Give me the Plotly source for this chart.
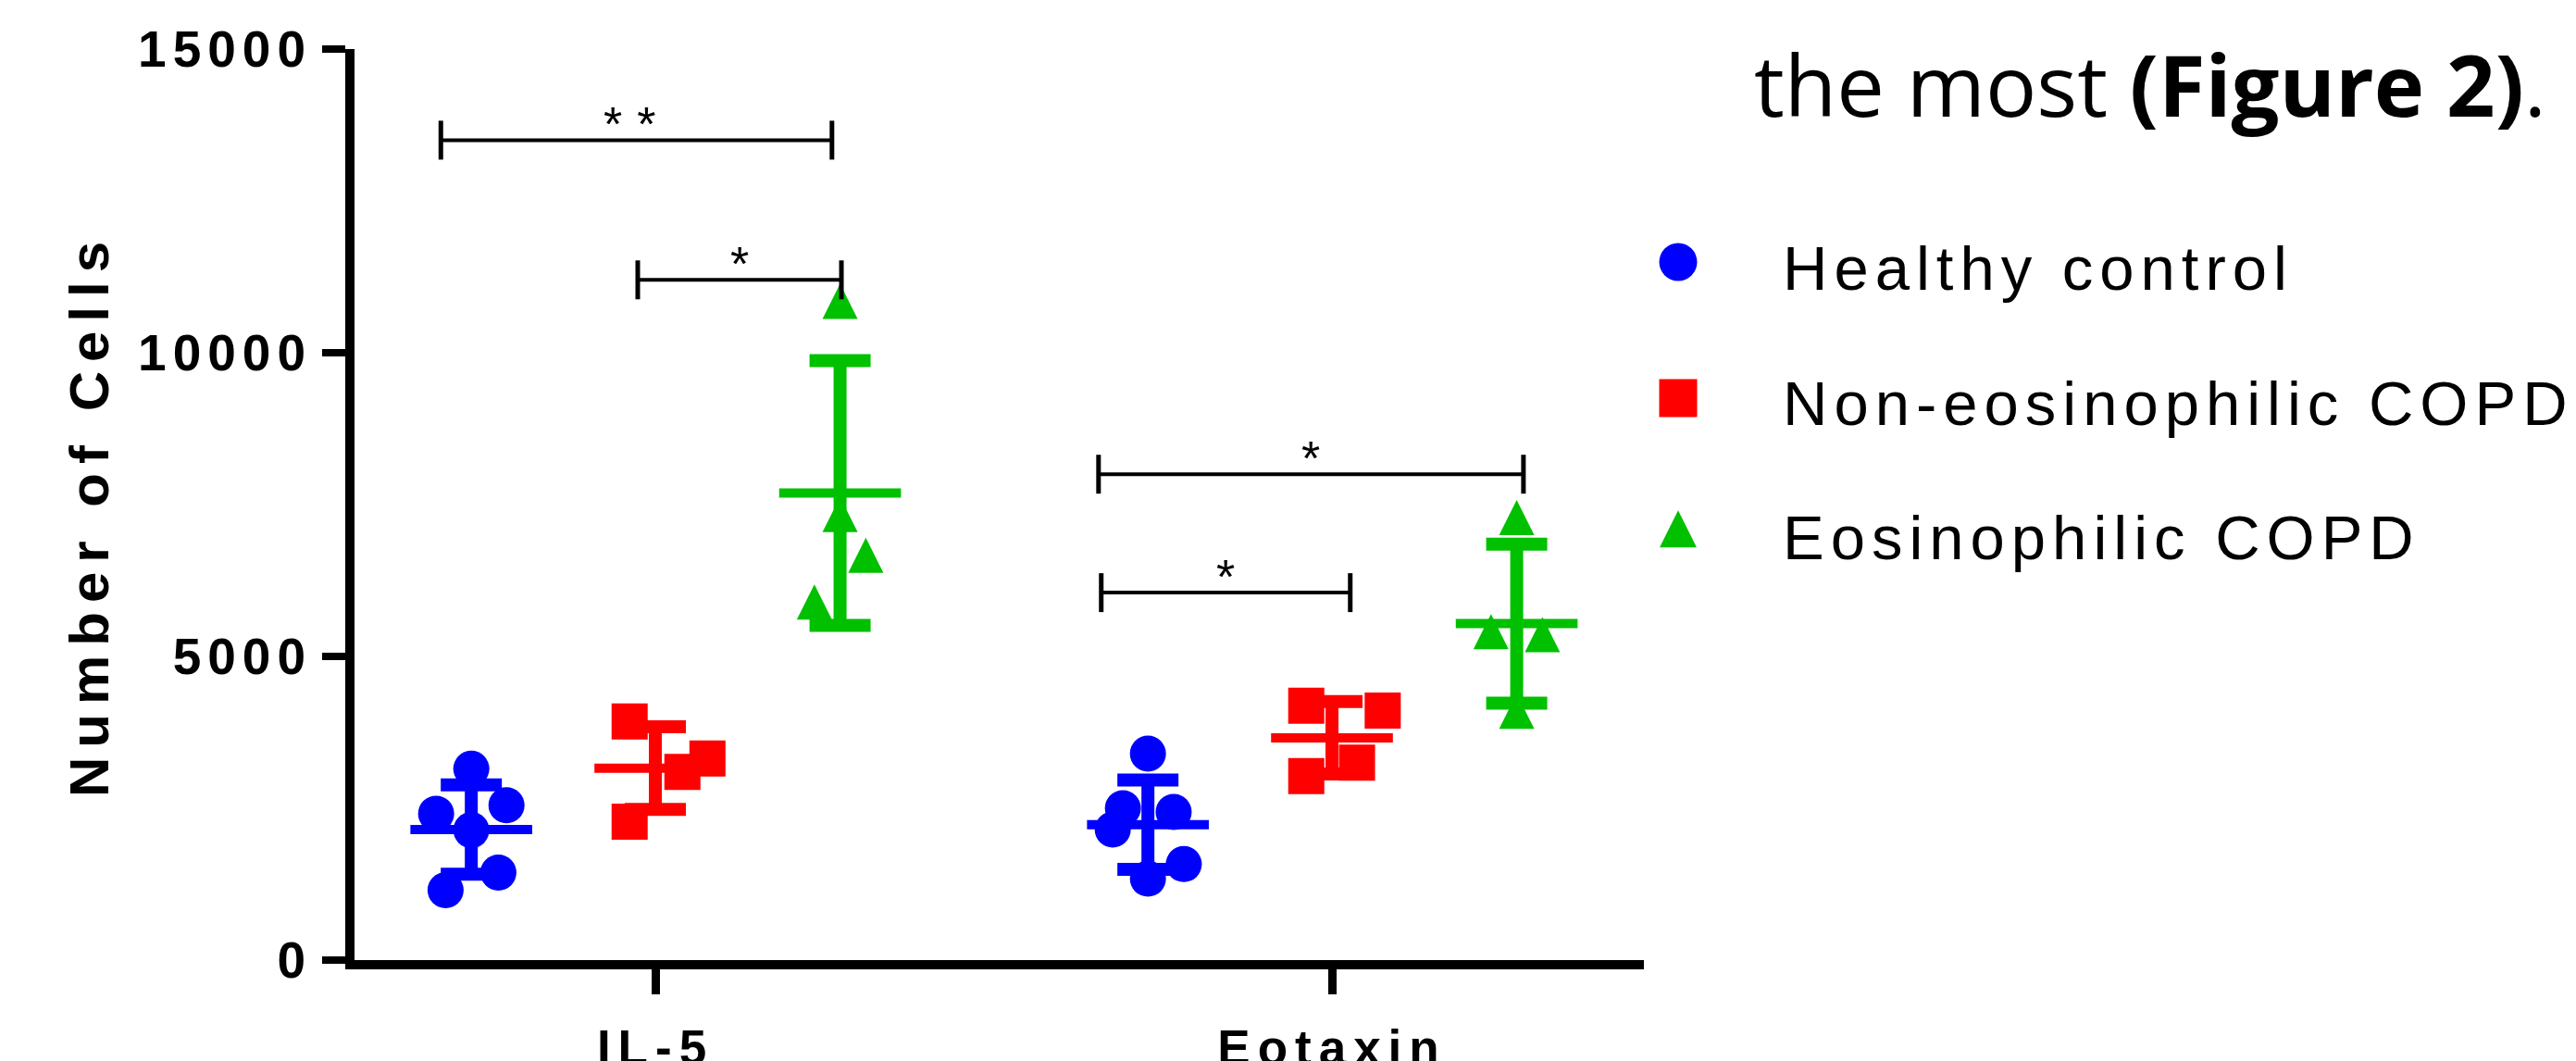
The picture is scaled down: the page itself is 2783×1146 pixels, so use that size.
import json
import plotly.graph_objects as go

# ---------------- data ----------------
categories = ["IL-5", "Eotaxin"]
groups = ["Healthy control", "Non-eosinophilic COPD", "Eosinophilic COPD"]

il5_healthy = [3150, 2410, 2550, 2140, 1440, 1150]
il5_noneos = [3930, 3100, 3320, 2280]
il5_eos = [10750, 7240, 6570, 5800]
eotaxin_healthy = [3400, 2500, 2440, 2150, 1580, 1340]
eotaxin_noneos = [4190, 4110, 3250, 3030]
eotaxin_eos = [7190, 5310, 5260, 4000]

il5_mean = [2150, 3160, 7690]
il5_sd = [735, 680, 2180]
eotaxin_mean = [2230, 3660, 5540]
eotaxin_sd = [735, 595, 1310]

y_tick_values = [0, 5000, 10000, 15000]
y_tick_labels = ["0", "5000", "10000", "15000"]

sig_x_start = [-0.317, -0.026, 0.655, 0.659]
sig_x_end = [0.261, 0.275, 1.283, 1.027]
sig_y = [13500, 11200, 8000, 6050]
sig_labels = ["**", "*", "*", "*"]

# ---------------- layout / style ----------------
W, H = 2783, 1146
L, R, T, B = 383, 0, 53, 109
PW, PH = W - L - R, H - T - B
def px_x(p):
    return (p - L) / PW
def px_y(p):
    return (H - B - p) / PH

group_offsets = [-0.272, 0.0, 0.273]
colors = ["#0000FF", "#FF0000", "#00C000"]
jitter = {
    ("IL-5", 0): [0, -0.052, 0.052, 0, 0.040, -0.038],
    ("IL-5", 1): [-0.038, 0.040, 0.077, -0.038],
    ("IL-5", 2): [0, 0, 0.038, -0.038],
    ("Eotaxin", 0): [0, -0.037, 0.038, -0.052, 0.053, 0],
    ("Eotaxin", 1): [-0.038, 0.075, 0.037, -0.038],
    ("Eotaxin", 2): [0, -0.038, 0.038, 0],
}
values = {
    ("IL-5", 0): il5_healthy, ("IL-5", 1): il5_noneos, ("IL-5", 2): il5_eos,
    ("Eotaxin", 0): eotaxin_healthy, ("Eotaxin", 1): eotaxin_noneos, ("Eotaxin", 2): eotaxin_eos,
}
means = {"IL-5": il5_mean, "Eotaxin": eotaxin_mean}
sds = {"IL-5": il5_sd, "Eotaxin": eotaxin_sd}

SANS = "Liberation Sans, Arial, sans-serif"
PT = 39
TRI = 38

def marker_for(g, size):
    if g == 0:
        return dict(symbol="circle", size=size, color=colors[g], line=dict(width=0))
    if g == 1:
        return dict(symbol="square", size=size, color=colors[g], line=dict(width=0))
    return dict(symbol="arrow-down", angle=180, standoff=size * 2 / 3, size=size,
                color=colors[g], line=dict(width=0))

fig = go.Figure()

for ci, cat in enumerate(categories):
    for g in range(3):
        base = ci + group_offsets[g]
        vals = values[(cat, g)]
        xs = [base + j for j in jitter[(cat, g)]]
        fig.add_trace(go.Scatter(
            x=xs, y=vals, mode="markers", marker=marker_for(g, TRI if g == 2 else PT),
            hoverinfo="skip", showlegend=False))
    for g in range(3):
        base = ci + group_offsets[g]
        fig.add_trace(go.Scatter(
            x=[base], y=[means[cat][g]], mode="markers",
            marker=dict(symbol="line-ew", size=94, color=colors[g],
                        line=dict(width=10, color=colors[g])),
            error_y=dict(type="data", array=[sds[cat][g]], visible=True,
                         color=colors[g], thickness=14, width=33),
            hoverinfo="skip", showlegend=False))

annotations = []
for x0, x1, yv, lab in zip(sig_x_start, sig_x_end, sig_y, sig_labels):
    fig.add_trace(go.Scatter(
        x=[x0, x1], y=[yv, yv], mode="lines+markers",
        line=dict(color="black", width=4),
        marker=dict(symbol="line-ns", size=30, color="black", line=dict(width=5, color="black")),
        hoverinfo="skip", showlegend=False, cliponaxis=False))
    annotations.append(dict(x=(x0 + x1) / 2, y=yv, xref="x", yref="y", text=lab,
                            showarrow=False, yanchor="middle", yshift=17,
                            font=dict(family=SANS, size=52, color="black")))

# legend (drawn on an auxiliary axis spanning the paper)
leg_marker_y = [283, 430, 578]
leg_text_y = [289, 435, 580]
for g in range(3):
    fig.add_trace(go.Scatter(
        x=[px_x(1813)], y=[px_y(leg_marker_y[g])], xaxis="x2", yaxis="y2",
        mode="markers", marker=marker_for(g, 41 if g != 2 else 40),
        hoverinfo="skip", showlegend=False, cliponaxis=False))
    annotations.append(dict(x=px_x(1924), y=px_y(leg_text_y[g]), xref="paper", yref="paper",
                            text=groups[g], showarrow=False, xanchor="left", align="left",
                            yanchor="middle", font=dict(family=SANS, size=67, color="black")))

# y-axis title
annotations.append(dict(x=px_x(96), y=px_y(556), xref="paper", yref="paper",
                        text="Number of Cells", textangle=-90, showarrow=False,
                        xanchor="center", yanchor="middle",
                        font=dict(family=SANS, size=60, color="black", weight="bold")))

# surrounding document text
annotations.append(dict(x=px_x(1893), y=px_y(91), xref="paper", yref="paper",
                        text="the most <b>(Figure 2)</b>.", showarrow=False,
                        xanchor="left", align="left", yanchor="middle",
                        font=dict(family="Open Sans, sans-serif", size=92, color="black")))

fig.update_layout(
    template="none",
    width=W, height=H, autosize=False,
    margin=dict(l=L, r=R, t=T, b=B, pad=0),
    paper_bgcolor="white", plot_bgcolor="rgba(0,0,0,0)",
    showlegend=False,
    annotations=annotations,
    xaxis=dict(domain=[0, (1776 - L) / PW], range=[-0.4446, 1.461],
               tickvals=[0, 1], ticktext=categories, automargin=False,
               showline=True, linewidth=10, linecolor="black",
               ticks="outside", ticklen=27, tickwidth=9, tickcolor="black",
               ticklabelstandoff=12,
               tickfont=dict(family=SANS, size=53, color="black", weight="bold"),
               showgrid=False, zeroline=False, fixedrange=True),
    yaxis=dict(range=[0, 15000], tickvals=y_tick_values, ticktext=y_tick_labels,
               automargin=False,
               showline=True, linewidth=10, linecolor="black",
               ticks="outside", ticklen=25, tickwidth=8, tickcolor="black",
               tickfont=dict(family=SANS, size=55, color="black", weight="bold"),
               showgrid=False, zeroline=False, fixedrange=True),
    xaxis2=dict(domain=[0, 1], range=[0, 1], anchor="y2", visible=False,
                automargin=False, fixedrange=True),
    yaxis2=dict(domain=[0, 1], range=[0, 1], anchor="x2", visible=False,
                automargin=False, fixedrange=True),
)

spacing = {"Number of Cells": 10, "**": 16, "Healthy control": 7,
           "Non-eosinophilic COPD": 7, "Eosinophilic COPD": 7}
js = """
document.documentElement.style.margin = '0';
document.body.style.margin = '0';
document.body.style.overflow = 'hidden';
var sp = %s;
document.querySelectorAll('.ytick text').forEach(function(t){ t.style.letterSpacing = '7px'; });
document.querySelectorAll('.xtick text').forEach(function(t){ t.style.letterSpacing = '8px'; });
document.querySelectorAll('.annotation-text').forEach(function(t){
  var s = sp[t.textContent]; if (s) { t.style.letterSpacing = s + 'px'; }
});
""" % json.dumps(spacing)

fig.write_html("out.html", post_script=js, config={"displayModeBar": False})
